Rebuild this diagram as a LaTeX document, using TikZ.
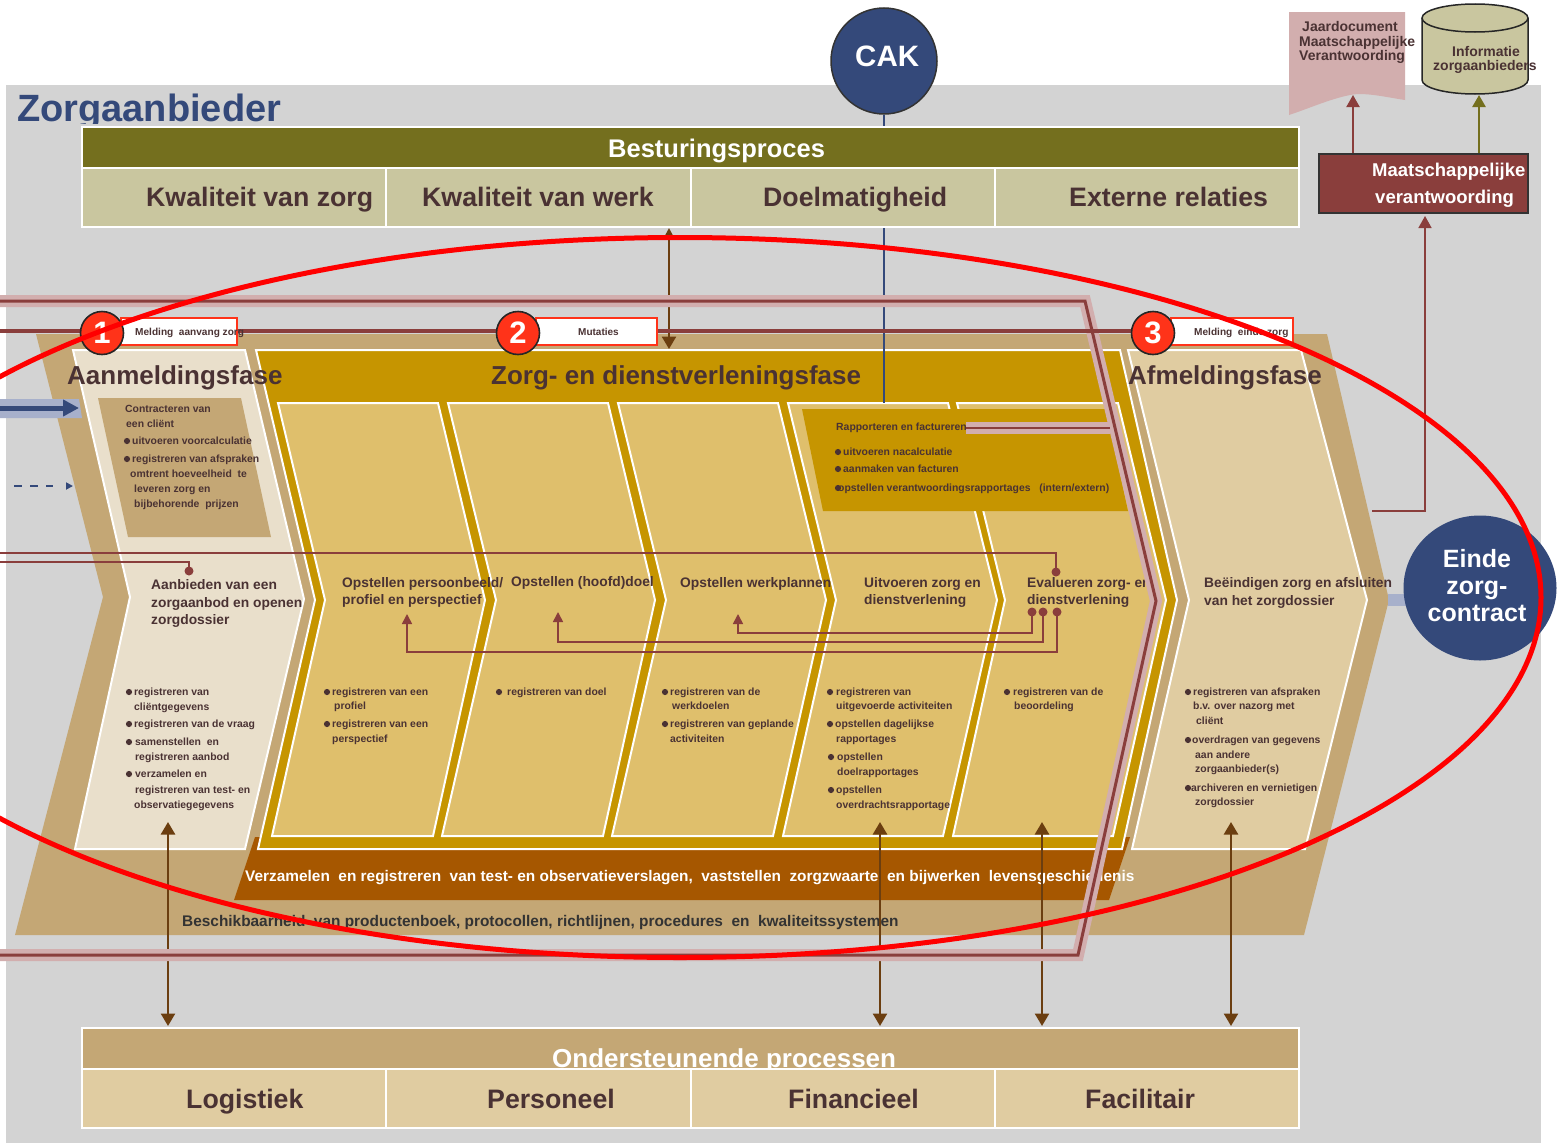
\documentclass[tikz,border=0pt]{standalone}
\usepackage{fontspec}
\setmainfont{Liberation Sans}
\usetikzlibrary{arrows.meta,shapes.geometric}
\definecolor{greybg}{HTML}{D3D3D3}
\definecolor{tan}{HTML}{C4A775}
\definecolor{gold}{HTML}{C69500}
\definecolor{panel}{HTML}{DFBF6C}
\definecolor{lightA}{HTML}{E9DFCB}
\definecolor{lightB}{HTML}{E0CCA1}
\definecolor{olive}{HTML}{746F1E}
\definecolor{khaki}{HTML}{C9C69F}
\definecolor{rust}{HTML}{A65700}
\definecolor{navy}{HTML}{34497A}
\definecolor{navyL}{HTML}{A7B0CB}
\definecolor{wine}{HTML}{8A3E3C}
\definecolor{pinkb}{HTML}{D2AEAE}
\definecolor{brownA}{HTML}{6B3E10}
\definecolor{ink}{HTML}{4A3233}
\definecolor{redC}{HTML}{FF3319}
\newcounter{tn}
\newcommand{\fsz}[1]{\fontsize{#1}{#1}\selectfont\bfseries}
% x, y (visual centre), size, text
\newcommand{\tx}[4]{\stepcounter{tn}\node[lbl,font=\fsz{#3}] (t\arabic{tn}) at (#1,{#2+0.36*#3}) {#4};}
\newcommand{\sm}[3]{\tx{#1}{#2}{10.4}{#3}}
\newcommand{\hd}[3]{\tx{#1}{#2}{13.8}{#3}}
\newcommand{\bu}[2]{\fill[ink] (#1,#2) circle (3.1);}
\tikzset{
  lbl/.style={anchor=base west,inner sep=0pt,text=ink},
  whiteline/.style={draw=white,line width=2pt},
  cell/.style={whiteline,inner sep=0pt,anchor=north west},
  wine arrow/.style={draw=wine,line width=2pt},
  thin wine/.style={draw=wine,line width=1.6pt},
  double brown/.style={draw=brownA,line width=2.5pt,{Triangle[length=12.5pt,width=14pt]}-{Triangle[length=12.5pt,width=14pt]}},
  badge/.style={circle,draw=black!85,line width=1.6pt,fill=redC,minimum size=43pt,inner sep=0pt,text=white,font=\fsz{31}},
  tag/.style={draw=redC,fill=white,line width=1.8pt,anchor=north west,inner sep=0pt},
}
\begin{document}
\begin{tikzpicture}[x=1pt,y=-1pt]
\useasboundingbox (0,0) rectangle (1558,1143);
\clip (0,0) rectangle (1558,1143);
\fill[white] (0,0) rectangle (1558,1143);
% background
\fill[greybg] (6,85) rectangle (1541,1143);
\tx{17}{108}{38}{\textcolor{navy}{Zorgaanbieder}}
\fill[greybg] (6,124) rectangle (300,135);

% big tan chevron
\fill[tan] (36,334) -- (1327,334) -- (1389,600) -- (1304,935) -- (15,935) -- (103,597) -- cycle;
% rust bar
\fill[rust] (255,837) -- (1130,837) -- (1109,900) -- (234,900) -- cycle;
% gold chevron
\filldraw[fill=gold,whiteline] (256,350) -- (1120,350) -- (1177,600) -- (1122,849) -- (258,849) -- (315,600) -- cycle;
% panels
\tikzset{pan/.style={fill=panel,whiteline}}
\filldraw[pan] (278,403) -- (438,403) -- (485,600) -- (433,836) -- (272,836) -- (325,600) -- cycle;
\filldraw[pan] (448,403) -- (608,403) -- (655,600) -- (603,836) -- (442,836) -- (496,600) -- cycle;
\filldraw[pan] (618,403) -- (778,403) -- (826,600) -- (773,836) -- (612,836) -- (666,600) -- cycle;
\filldraw[pan] (788,403) -- (948,403) -- (997,600) -- (943,836) -- (783,836) -- (836,600) -- cycle;
\filldraw[pan] (957,403) -- (1118,403) -- (1166,600) -- (1113,836) -- (953,836) -- (1005,600) -- cycle;
% Rapporteren box
\fill[gold] (802,409) -- (1106,409) -- (1128,511) -- (823,511) -- cycle;
% Aanmelding + Afmelding
\filldraw[fill=lightA,whiteline] (73,350) -- (245,350) -- (304,599) -- (245,849) -- (75,849) -- (130,597) -- cycle;
\filldraw[fill=lightB,whiteline] (1128,350) -- (1301,350) -- (1367,600) -- (1305,849) -- (1132,849) -- (1189,600) -- cycle;
\fill[tan] (98,398) -- (241,398) -- (271,537) -- (128,537) -- cycle;

% CAK link
\node[circle,draw=black!80,line width=1.5pt,fill=navy,minimum size=106pt,inner sep=0pt] (cak) at (884,61) {};
\tx{855}{56}{29.5}{\textcolor{white}{CAK}}
\coordinate (cakEnd) at (884,403);
\draw[navy,line width=2.5pt] (cak) -- (cakEnd);

% Besturingsproces
\node[cell,fill=olive,minimum width=1217pt,minimum height=41pt] (best) at (81,126) {};
\tx{608}{148}{25.5}{\textcolor{white}{Besturingsproces}}
\node[cell,fill=khaki,minimum width=304pt,minimum height=59pt] (b1) at (81,167) {};
\node[cell,fill=khaki,minimum width=305pt,minimum height=59pt] (b2) at (385,167) {};
\node[cell,fill=khaki,minimum width=304pt,minimum height=59pt] (b3) at (690,167) {};
\node[cell,fill=khaki,minimum width=304pt,minimum height=59pt] (b4) at (994,167) {};
\tx{146}{197}{26.7}{Kwaliteit van zorg}
\tx{422}{197}{26.7}{Kwaliteit van werk}
\tx{763}{197}{26.7}{Doelmatigheid}
\tx{1069}{197}{26.7}{Externe relaties}

% phase titles
\tx{67}{375}{26}{Aanmeldingsfase}
\tx{491}{375}{26}{Zorg- en dienstverleningsfase}
\tx{1128}{375}{26}{Afmeldingsfase}

% contract box text
\sm{125}{409}{Contracteren van}
\sm{126}{424}{een cliënt}
\bu{127}{441}\sm{132}{441}{uitvoeren voorcalculatie}
\bu{127}{459}\sm{132}{459}{registreren van afspraken}
\sm{130}{474}{omtrent hoeveelheid \ te}
\sm{134}{489}{leveren zorg en}
\sm{134}{504}{bijbehorende \ prijzen}

% rapporteren text
\sm{836}{427}{Rapporteren en factureren}
\bu{838}{452}\sm{843}{452}{uitvoeren nacalculatie}
\bu{838}{469}\sm{843}{469}{aanmaken van facturen}
\bu{838}{488}\sm{838}{488}{opstellen verantwoordingsrapportages \ \ (intern/extern)}

% process headings
\hd{151}{585}{Aanbieden van een}
\hd{151}{603}{zorgaanbod en openen}
\hd{151}{620}{zorgdossier}
\hd{342}{583}{Opstellen persoonbeeld/}
\hd{342}{600}{profiel en perspectief}
\hd{511}{582}{Opstellen (hoofd)doel}
\hd{680}{583}{Opstellen werkplannen}
\hd{864}{583}{Uitvoeren zorg en}
\hd{864}{600}{dienstverlening}
\hd{1027}{583}{Evalueren zorg- en}
\hd{1027}{600}{dienstverlening}
\hd{1204}{583}{Beëindigen zorg en afsluiten}
\hd{1204}{601}{van het zorgdossier}

% Aanmeld bullets
\bu{129}{692}\sm{134}{692}{registreren van}
\sm{134}{707}{cliëntgegevens}
\bu{129}{724}\sm{134}{724}{registreren van de vraag}
\bu{129}{742}\sm{135}{742}{samenstellen \ en}
\sm{135}{757}{registreren aanbod}
\bu{129}{774}\sm{135}{774}{verzamelen en}
\sm{135}{790}{registreren van test- en}
\sm{134}{805}{observatiegegevens}
% P1
\bu{327}{692}\sm{332}{692}{registreren van een}
\sm{334}{706}{profiel}
\bu{327}{724}\sm{332}{724}{registreren van een}
\sm{332}{739}{perspectief}
% P2
\bu{499}{692}\sm{507}{692}{registreren van doel}
% P3
\bu{665}{692}\sm{670}{692}{registreren van de}
\sm{672}{706}{werkdoelen}
\bu{665}{724}\sm{670}{724}{registreren van geplande}
\sm{670}{739}{activiteiten}
% P4
\bu{830}{692}\sm{836}{692}{registreren van}
\sm{836}{706}{uitgevoerde activiteiten}
\bu{830}{724}\sm{835}{724}{opstellen dagelijkse}
\sm{836}{739}{rapportages}
\bu{831}{757}\sm{837}{757}{opstellen}
\sm{837}{772}{doelrapportages}
\bu{831}{790}\sm{836}{790}{opstellen}
\sm{836}{805}{overdrachtsrapportage}
% P5
\bu{1007}{692}\sm{1013}{692}{registreren van de}
\sm{1014}{706}{beoordeling}
% Afmeld
\bu{1188}{692}\sm{1193}{692}{registreren van afspraken}
\sm{1193}{706}{b.v. over nazorg met}
\sm{1196}{721}{cliënt}
\bu{1188}{740}\sm{1192}{740}{overdragen van gegevens}
\sm{1195}{755}{aan andere}
\sm{1195}{769}{zorgaanbieder(s)}
\bu{1188}{788}\sm{1191}{788}{archiveren en vernietigen}
\sm{1195}{802}{zorgdossier}

% bars text
\tx{245}{876}{15.4}{\textcolor{white}{Verzamelen \ en registreren \ van test- en observatieverslagen, \ vaststellen \ zorgzwaarte \ en bijwerken \ levensgeschiedenis}}
\tx{182}{921}{15.4}{\textcolor{black!80}{Beschikbaarheid \ van productenboek, protocollen, richtlijnen, procedures \ en \ kwaliteitssystemen}}

% internal feedback connectors
\coordinate (inA) at (0,553); \coordinate (dotA) at (1056,572);
\coordinate (inB) at (0,562); \coordinate (dotB) at (189,571);
\draw[thin wine] (inA) -| (dotA);
\draw[thin wine] (inB) -| (dotB);
\fill[wine] (dotA) circle (4.5); \fill[wine] (dotB) circle (4.5);
\coordinate (d1) at (1032,612); \coordinate (d2) at (1043,612); \coordinate (d3) at (1057,612);
\coordinate (a1) at (738,614); \coordinate (a2) at (558,612); \coordinate (a3) at (407,614);
\foreach \p in {d1,d2,d3} \fill[wine] (\p) circle (4.5);
\tikzset{fb/.style={draw=wine,line width=1.6pt,-{Triangle[length=10pt,width=10pt]}}}
\draw[fb] (d1) -- ++(0,21) -| (a1);
\draw[fb] (d2) -- ++(0,30) -| (a2);
\draw[fb] (d3) -- ++(0,40) -| (a3);

% Ondersteunende processen
\node[cell,fill=tan,minimum width=1217pt,minimum height=41pt] (ond) at (81,1027) {};
\tx{552}{1058}{26}{\textcolor{white}{Ondersteunende processen}}
\node[cell,fill=lightB,minimum width=304pt,minimum height=59pt] (c1) at (81,1068) {};
\node[cell,fill=lightB,minimum width=305pt,minimum height=59pt] (c2) at (385,1068) {};
\node[cell,fill=lightB,minimum width=304pt,minimum height=59pt] (c3) at (690,1068) {};
\node[cell,fill=lightB,minimum width=304pt,minimum height=59pt] (c4) at (994,1068) {};
\tx{186}{1099}{26.7}{Logistiek}
\tx{487}{1099}{26.7}{Personeel}
\tx{788}{1099}{26.7}{Financieel}
\tx{1085}{1099}{26.7}{Facilitair}

% double arrows
\coordinate (u1) at (168,822); \coordinate (l1) at (168,1026);
\coordinate (u2) at (880,822); \coordinate (l2) at (880,1026);
\coordinate (u3) at (1042,822); \coordinate (l3) at (1042,1026);
\coordinate (u4) at (1231,822); \coordinate (l4) at (1231,1026);
\foreach \i in {1,2,3,4} \draw[double brown] (u\i) -- (l\i);
\coordinate (top1) at (669,228); \coordinate (top2) at (669,349);
\draw[double brown,{Triangle[length=10pt,width=10pt]}-{Triangle[length=12.5pt,width=14pt]}] (top1) -- (top2);

% pink channel
\coordinate (p0) at (0,301); \coordinate (p1) at (1085,301); \coordinate (p2) at (1156,601);
\coordinate (p3) at (1078,955); \coordinate (p4) at (0,955);
\coordinate (q0) at (966,428); \coordinate (q1) at (1110,428);
\draw[pinkb,line width=12pt,miter limit=10] (p0) -- (p1) -- (p2) -- (p3) -- (p4);
\draw[pinkb,line width=12pt] (q0) -- (q1);
\draw[wine,line width=3pt] (p0) -- (p1) -- (p2) -- (p3) -- (p4);
\draw[wine,line width=2pt] (q0) -- (q1);

% phase milestone line
\coordinate (mL) at (0,331); \coordinate (mR) at (1135,331);
\draw[wine,line width=4pt] (mL) -- (mR);
\node[tag,minimum width=116pt,minimum height=27pt] (tag1) at (120,317) {};
\node[tag,minimum width=121pt,minimum height=27pt] (tag2) at (535,317) {};
\node[tag,minimum width=122pt,minimum height=27pt] (tag3) at (1170,317) {};
\tx{135}{332}{10.1}{Melding \ aanvang zorg}
\tx{578}{332}{10}{Mutaties}
\tx{1194}{332}{10.1}{Melding \ einde zorg}
\node[badge] (n1) at (102,333) {1};
\node[badge] (n2) at (518,333) {2};
\node[badge] (n3) at (1153,333) {3};

% incoming arrows left
\fill[navyL] (0,399) -- (79,399) -- (82,418) -- (0,418) -- cycle;
\coordinate (inL) at (0,408); \coordinate (inR) at (79,408);
\draw[navy,line width=5pt,-{Triangle[length=16pt,width=16pt]}] (inL) -- (inR);
\coordinate (dashL) at (14,486); \coordinate (dashR) at (73,486);
\draw[navy,line width=2pt,dash pattern=on 8pt off 8pt on 8pt off 8pt on 7pt off 30pt,-{Triangle[length=7pt,width=7pt]}] (dashL) -- (dashR);

% Einde contract
\fill[navyL] (1388,594) rectangle (1410,606);
\node[ellipse,fill=navy,minimum width=153pt,minimum height=145pt,inner sep=0pt] (einde) at (1480,588) {};
\node[inner sep=0pt,text=white,align=center,font=\fsz{25}] (eindeT) at (1477,586) {Einde\\[2pt]zorg-\\[2pt]contract};

% Maatschappelijke
\node[draw=black!80,line width=1.5pt,fill=wine,anchor=north west,minimum width=209pt,minimum height=59pt,inner sep=0pt] (mv) at (1318,153) {};
\tx{1372}{170}{18.5}{\textcolor{white}{Maatschappelijke}}
\tx{1375}{197}{18.5}{\textcolor{white}{verantwoording}}
\coordinate (outS) at (1372,511); \coordinate (mvB) at (1425,216);
\draw[thin wine,-{Triangle[length=12pt,width=13pt]}] (outS) -| (mvB);

% document
\fill[pinkb] (1289,12) -- (1405,12) -- (1405,100) .. controls (1385,97) and (1365,92) .. (1350,95) .. controls (1330,99) and (1310,108) .. (1289,115) -- cycle;
\coordinate (docS) at (1353,153); \coordinate (docE) at (1353,95);
\draw[wine arrow,-{Triangle[length=12pt,width=13pt]}] (docS) -- (docE);
\tx{1302}{26}{14}{Jaardocument}
\tx{1299}{41}{14}{Maatschappelijke}
\tx{1299}{55}{14}{Verantwoording}

% cylinder
\filldraw[fill=khaki,draw=black!85,line width=1.5pt] (1422,18) -- (1422,80) arc[start angle=180,end angle=0,x radius=53,y radius=14] -- (1528,18);
\filldraw[fill=khaki,draw=black!85,line width=1.5pt] (1475,18) ellipse (53 and 14);
\coordinate (cylS) at (1479,153); \coordinate (cylE) at (1479,95);
\draw[olive,line width=2.5pt,-{Triangle[length=12pt,width=13pt]}] (cylS) -- (cylE);
\tx{1452}{51}{14}{Informatie}
\tx{1433}{65}{14}{zorgaanbieders}

% red ellipse
\draw[red,line width=5pt] (680,597.5) ellipse (861 and 360);
\end{tikzpicture}
\end{document}
